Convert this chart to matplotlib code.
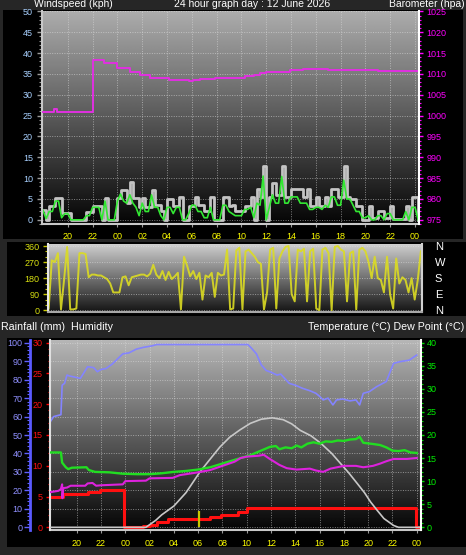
# 24 hour weather graph: wind/barometer, wind direction, temp/humidity/rain

import matplotlib.pyplot as plt
from matplotlib.patches import Rectangle
from matplotlib.ticker import MultipleLocator
import numpy as np

plt.rcParams['font.family'] = ['Liberation Sans', 'DejaVu Sans']

W, H = 466, 555

# time in hours from midnight of 12 June (negative = evening before)
hour_ticks = [-4, -2, 0, 2, 4, 6, 8, 10, 12, 14, 16, 18, 20, 22, 24]
hour_labels = ['20', '22', '00', '02', '04', '06', '08', '10', '12', '14', '16',
               '18', '20', '22', '00']

# wind, sampled every 15 minutes from -6.0 h
wind_t = np.arange(-6.0, 24.26, 0.25)
gust = [2.3, 0, 3.3, 3.3, 5.2, 5.2, 1.7, 1.7,
        1.7, 0, 0, 0, 0, 0, 1.8, 1.8,
        3.3, 3.3, 3.3, 0, 5.2, 0, 0, 0,
        5.2, 7.2, 7.2, 4, 9.0, 5.2, 5.2, 3,
        5.2, 3, 3, 7.2, 3.5, 3.5, 2, 0,
        5, 5, 3.3, 3.3, 5.5, 0, 0, 3.3,
        3.3, 5.5, 3.5, 3.5, 2, 2, 5.5, 0,
        0, 0, 5.5, 5.5, 3.3, 3.5, 2, 2,
        2, 3.3, 3.3, 5.5, 0, 7.5, 5.5, 12.8,
        0, 5.5, 8.8, 6, 6, 12.8, 5.5, 5.5,
        7.5, 7.5, 7.5, 7.5, 5.5, 7.5, 3.3, 3.3,
        5.5, 3.3, 3.3, 5.5, 3.3, 7.5, 7.5, 5.5,
        5.5, 12.8, 5.5, 5, 5, 3.3, 3.3, 0,
        0, 3.3, 0.5, 0.5, 2, 2, 0.5, 0.5,
        3.3, 0.3, 0.3, 0.3, 0.3, 3.3, 0, 5.5,
        5.5, 0]
avg = [2.3, 0.3, 2, 2, 4.5, 4.5, 0.5, 1.5,
       1.5, 0, 0, 0, 0, 0, 1, 1,
       3, 3, 3, 0, 4.5, 0, 0, 0,
       4.5, 6.2, 4.5, 4, 6, 4, 3, 1,
       4, 2, 2, 6, 3, 3, 1, 0,
       3, 3, 1.5, 3, 3, 0, 0, 1.5,
       3.5, 3.5, 2, 2, 0.5, 0.5, 3, 0,
       0, 0, 3.5, 3.5, 2, 1.5, 1, 1,
       1, 2.5, 2.5, 3, 0.5, 4, 3.5, 10.5,
       0, 3, 6, 4, 4, 10.4, 4, 4,
       5.5, 5.5, 5.5, 4, 4, 4, 2.5, 2.5,
       3, 3, 2.5, 3.5, 3, 5.5, 5.5, 3.5,
       3.5, 9.5, 5, 5, 3.5, 2, 2, 0.5,
       0.5, 1, 0, 0, 1, 1, 0, 1.5,
       1.5, 0, 0, 0, 0, 2, 0, 3,
       3, 0]
wind_dir = [10, 280, 270, 320, 5, 170, 355, 5,
            5, 10, 320, 320, 315, 185, 200, 200,
            195, 195, 185, 175, 150, 100, 100, 100,
            185, 190, 140, 185, 190, 195, 200, 200,
            190, 205, 255, 200, 180, 220, 170, 215,
            175, 190, 210, 5, 300, 250, 190, 220,
            175, 210, 60, 195, 185, 210, 75, 210,
            195, 200, 340, 5, 10, 335, 350, 5,
            330, 340, 320, 300, 270, 260, 5, 100,
            340, 350, 10, 290, 330, 355, 360, 90,
            50, 340, 330, 345, 50, 330, 345, 10,
            0, 340, 350, 320, 0, 355, 360, 340,
            330, 50, 320, 330, 5, 340, 350, 330,
            270, 180, 300, 180, 170, 100, 300, 90,
            10, 290, 150, 185, 170, 100, 180, 60,
            170, 330]

baro_t = [-6.1, -5.1, -4.9, -2.0, -1.1, 0.0, 1.0, 1.8, 2.6, 4.2, 5.8, 6.1, 6.7,
          7.9, 10.3, 11.0, 11.5, 12.0, 13.9, 15.0, 17.0, 21.0, 24.4]
baro = [1000.8, 1001.5, 1000.8, 1013.3, 1012.5, 1011.5, 1010.5, 1009.7, 1009.0,
        1008.5, 1008.2, 1008.5, 1008.7, 1008.9, 1009.4, 1009.8, 1010.2, 1010.5,
        1011.0, 1011.2, 1011.0, 1010.8, 1010.8]

temp_t = [-6.2, -5.3, -5.2, -4.9, -4.7, -4.4, -3.2, -3.0, -2.5, -1.3, -0.2, 1.0,
          2.0, 3.0, 4.0, 5.0, 6.0, 7.0, 8.0, 9.0, 9.5, 10.3, 11.0, 11.9, 12.4,
          12.7, 13.2, 13.7, 14.1, 14.5, 15.0, 15.5, 16.0, 16.5, 17.0, 17.5, 18.0,
          18.5, 19.0, 19.3, 19.6, 20.5, 21.0, 21.5, 22.0, 22.5, 23.0, 23.5, 24.0]
temp = [16.2, 16.2, 14.0, 13.0, 12.6, 12.9, 13.0, 12.4, 12.0, 11.9, 11.6, 11.5,
        11.5, 11.7, 12.0, 12.2, 12.5, 13.0, 13.8, 14.6, 15.0, 15.6, 16.4, 17.4,
        17.6, 16.9, 17.3, 17.1, 17.7, 17.3, 18.1, 18.4, 18.1, 18.6, 18.5, 18.8,
        18.7, 19.0, 19.1, 19.6, 18.3, 18.0, 17.8, 17.3, 16.6, 16.5, 16.7, 16.2, 16.1]

dew_t = [-6.2, -5.5, -5.3, -5.2, -5.18, -5.1, -4.8, -4.5, -3.3, -3.1, -2.7, -2.4,
         -2.0, -0.2, 0.0, 1.7, 2.0, 3.9, 4.5, 6.0, 7.0, 8.0, 9.0, 9.5, 10.0, 11.0,
         11.4, 11.9, 12.7, 13.3, 14.1, 15.2, 15.7, 16.3, 16.9, 18.0, 19.0, 19.6,
         20.4, 21.0, 21.5, 22.1, 23.2, 24.0]
dew = [7.6, 7.9, 8.3, 9.3, 6.3, 8.5, 8.6, 9.0, 9.0, 9.5, 9.6, 9.0, 9.1, 9.3, 10.0,
       10.1, 10.6, 10.7, 11.3, 11.9, 12.4, 13.3, 14.2, 15.0, 15.3, 15.5, 15.7,
       14.8, 13.5, 12.8, 12.5, 12.7, 12.3, 12.0, 12.7, 13.3, 13.3, 13.0, 13.3,
       13.8, 14.3, 14.8, 14.8, 15.0]

hum_t = [-6.2, -5.9, -5.3, -5.2, -5.0, -4.8, -4.6, -3.7, -3.1, -2.6, -2.3, -2.0,
         -1.6, -1.1, -0.2, 0.3, 0.9, 1.5, 2.2, 2.6, 10.1, 10.4, 10.8, 11.2, 11.6,
         12.0, 12.5, 12.8, 13.5, 14.0, 14.6, 15.2, 15.7, 16.0, 16.3, 16.7, 17.1,
         17.4, 17.9, 18.5, 19.0, 19.3, 19.6, 20.1, 20.7, 21.5, 21.8, 22.1, 22.6,
         23.4, 23.7, 24.0]
humidity = [57, 60, 61, 77, 78, 82.5, 82, 80.7, 87, 86.5, 84.3, 85.5, 86, 88.3,
            94, 94.5, 96.5, 97.5, 98.3, 99, 99, 97, 94, 88, 85, 84, 82.5, 83, 78,
            77, 75.3, 74, 72.6, 71, 69, 70, 66.3, 69, 69.5, 68.5, 69, 66.3, 72.6,
            73.5, 76.2, 79, 84, 88.8, 89.7, 90.6, 92, 93.3]

rain_t = [-6.2, -5.1, -3.1, -2.1, -0.08, 1.5, 2.0, 2.6, 3.5, 7.0, 7.9, 9.3, 10.0,
          23.92, 24.4]
rain = [4.97, 5.36, 5.8, 6.07, 0, 0.2, 0.4, 0.8, 1.3, 1.63, 2.0, 2.56, 3.19, 0, 0]
rain_rate_t = [6.05]
rain_rate = [2.6]

solar_t = [-6.2, 1.7, 2.5, 3.0, 4.0, 5.0, 6.15, 7.0, 7.8, 8.6, 9.45, 10.3, 11.2,
           12.1, 13.0, 13.7, 14.4, 15.3, 16.1, 17.0, 17.7, 18.4, 19.1, 19.7, 20.2,
           20.8, 21.3, 22.1, 22.5, 24.4]
solar = [0, 0, 1.5, 2.7, 4.6, 7.5, 12.0, 14.8, 17.4, 19.5, 21.1, 22.5, 23.4, 23.7,
         23.3, 22.4, 21.0, 19.8, 18.2, 16.0, 13.9, 11.8, 9.5, 7.5, 5.5, 3.5, 1.9,
         0.4, 0, 0]


def box(x0, y0, x1, y1):
    # pixel box (from top left) -> figure fraction rect
    return [x0 / W, 1 - y1 / H, (x1 - x0) / W, (y1 - y0) / H]


def shade(ax, top, bottom):
    g = np.linspace(bottom, top, 256).reshape(-1, 1)
    ax.imshow(g, extent=[0, 1, 0, 1], transform=ax.transAxes, origin='lower',
              aspect='auto', cmap='gray', vmin=0, vmax=1, zorder=0,
              interpolation='bilinear')


def grid(ax, axis='both'):
    ax.grid(True, axis=axis, color='#e0e0e0', ls=(0, (1, 1.5)), lw=0.7, alpha=0.55)


fig = plt.figure(figsize=(W / 100, H / 100), dpi=100, facecolor='#262626')

# black panels behind each chart
for x0, y0, x1, y1 in [(3, 10, 463, 239), (7, 242, 466, 316), (7, 338, 466, 547)]:
    fig.add_artist(Rectangle((x0 / W, 1 - y1 / H), (x1 - x0) / W, (y1 - y0) / H,
                             transform=fig.transFigure, facecolor='black',
                             edgecolor='none', zorder=-1))

# ---------------- wind speed + barometer ----------------
ax1 = fig.add_axes(box(42, 10.5, 419, 224))
shade(ax1, 0.68, 0.02)
ax1.plot(wind_t, gust, color='#c4c4c4', lw=2.0, drawstyle='steps-post')
ax1.plot(wind_t, avg, color='#33e833', lw=1.2)
ax1.set_xlim(-6.08, 24.32)
ax1.set_ylim(-1, 50.2)
ax1.set_yticks(range(0, 51, 5))
ax1.yaxis.set_minor_locator(MultipleLocator(1))
ax1.set_xticks(hour_ticks)
ax1.set_xticklabels(hour_labels)
ax1.tick_params(axis='y', which='major', length=3.6, width=1, color='#9a9a9a',
                labelcolor='#a8d0ff', labelsize=6.5, pad=3)
ax1.tick_params(axis='y', which='minor', length=2, width=0.8, color='#9a9a9a')
ax1.tick_params(axis='x', length=2, color='#9a9a9a', labelcolor='#ffff00',
                labelsize=6.5, pad=3.5)
grid(ax1)
ax1.spines['top'].set_visible(False)
ax1.spines['right'].set_visible(False)
for s in ['left', 'bottom']:
    ax1.spines[s].set_color('#c8c8c8')
    ax1.spines[s].set_linewidth(1.5)

ax1b = ax1.twinx()
ax1b.plot(baro_t, baro, color='#e030e0', lw=1.4, drawstyle='steps-post')
ax1b.set_ylim(974, 1025.2)
ax1b.set_yticks(range(975, 1026, 5))
ax1b.yaxis.set_minor_locator(MultipleLocator(1))
ax1b.tick_params(axis='y', which='major', length=2.9, width=1, color='#ff00ff',
                 labelcolor='#ff00ff', labelsize=6.5, pad=2.4)
ax1b.tick_params(axis='y', which='minor', length=1.5, width=0.8, color='#ff00ff')
for s in ['top', 'left', 'bottom']:
    ax1b.spines[s].set_visible(False)
ax1b.spines['right'].set_color('white')
ax1b.spines['right'].set_linewidth(1.5)

fig.text(34 / W, 1 - 7 / H, 'Windspeed (kph)', color='white', fontsize=7.5,
         va='baseline', ha='left')
fig.text(252 / W, 1 - 7 / H, '24 hour graph day : 12 June 2026', color='white',
         fontsize=7.5, va='baseline', ha='center')
fig.text(465 / W, 1 - 7 / H, 'Barometer (hpa)', color='white', fontsize=7.5,
         va='baseline', ha='right')

# ---------------- wind direction ----------------
ax2 = fig.add_axes(box(47.7, 244, 421.7, 312.3))
shade(ax2, 0.82, 0.08)
ax2.plot(wind_t, wind_dir, color='#dcdc22', lw=1.4, alpha=0.9)
ax2.set_xlim(-6.08, 24.32)
ax2.set_ylim(-11.2, 371.2)
ax2.set_yticks([0, 90, 180, 270, 360])
ax2.yaxis.set_minor_locator(MultipleLocator(30))
ax2.set_xticks([])
ax2.tick_params(axis='y', which='major', length=3.6, width=1, color='#c8c800',
                labelcolor='#d8e010', labelsize=6.5, pad=2.4)
ax2.tick_params(axis='y', which='minor', length=2, width=0.8, color='#c8c800')
grid(ax2, 'y')
ax2.spines['top'].set_visible(False)
ax2.spines['left'].set_color('#e8e8e8')
ax2.spines['right'].set_color('#d0d0d0')
ax2.spines['bottom'].set_color('#a8a8a8')
for s in ['left', 'right', 'bottom']:
    ax2.spines[s].set_linewidth(1.5)

ax2b = ax2.twinx()
ax2b.set_ylim(-11.2, 371.2)
ax2b.set_yticks([0, 90, 180, 270, 360])
ax2b.set_yticklabels(['N', 'E', 'S', 'W', 'N'])
ax2b.tick_params(axis='y', length=0, labelcolor='white', labelsize=8, pad=9.5)
for s in ax2b.spines.values():
    s.set_visible(False)

# ---------------- temperature / humidity / rain ----------------
fig.text(1 / W, 1 - 330 / H, 'Rainfall (mm)  Humidity', color='white',
         fontsize=7.7, va='baseline', ha='left')
fig.text(464 / W, 1 - 330 / H, 'Temperature (\u00b0C) Dew Point (\u00b0C)',
         color='white', fontsize=7.7, va='baseline', ha='right')

ax3 = fig.add_axes(box(50, 339.5, 420.7, 530))
shade(ax3, 0.72, 0.02)
ax3.plot(hum_t, humidity, color='#8484ff', lw=1.2)
ax3.set_xlim(-6.2, 24.33)
ax3.set_ylim(-1.46, 101.75)
ax3.set_yticks(range(0, 101, 10))
ax3.yaxis.set_minor_locator(MultipleLocator(2))
ax3.set_xticks(hour_ticks)
ax3.set_xticklabels(hour_labels)
ax3.tick_params(axis='y', which='major', length=4.3, width=1, color='#6060ff',
                labelcolor='#9090ff', labelsize=6.5, pad=1.2)
ax3.tick_params(axis='y', which='minor', length=2, width=0.8, color='#6060ff')
ax3.tick_params(axis='x', length=2, color='#9a9a9a', labelcolor='#ffff00',
                labelsize=6.5, pad=4.5)
grid(ax3)
ax3.spines['top'].set_visible(False)
ax3.spines['right'].set_visible(False)
ax3.spines['left'].set_position(('outward', 14.4))
ax3.spines['left'].set_color('#5a5aff')
ax3.spines['left'].set_linewidth(2)
ax3.spines['bottom'].set_color('#c8c8c8')
ax3.spines['bottom'].set_linewidth(1.5)

ax3r = ax3.twinx()
ax3r.plot(rain_t, rain, color='#ff1010', lw=2.2, drawstyle='steps-post')
ax3r.vlines(rain_rate_t, 0, rain_rate, color='#c8c800', lw=1.6)
ax3r.set_ylim(-0.44, 30.52)
ax3r.yaxis.set_ticks_position('left')
ax3r.set_yticks(range(0, 31, 5))
ax3r.yaxis.set_minor_locator(MultipleLocator(1))
ax3r.tick_params(axis='y', which='major', length=3.2, width=1, color='#ff0000',
                 labelcolor='#ff1010', labelsize=6.5, pad=2.4)
ax3r.tick_params(axis='y', which='minor', length=1.6, width=0.8, color='#ff0000')
for s in ['top', 'right', 'bottom']:
    ax3r.spines[s].set_visible(False)
ax3r.spines['left'].set_color('#e0e0e0')
ax3r.spines['left'].set_linewidth(1.5)

ax3t = ax3.twinx()
ax3t.plot(solar_t, solar, color='#c8c8c8', lw=1.2)
ax3t.plot(temp_t, temp, color='#22dd22', lw=1.7)
ax3t.plot(dew_t, dew, color='#dd22dd', lw=1.5)
ax3t.set_ylim(-0.58, 40.65)
ax3t.set_yticks(range(0, 41, 5))
ax3t.yaxis.set_minor_locator(MultipleLocator(1))
ax3t.tick_params(axis='y', which='major', length=2.5, width=1, color='#00dd00',
                 labelcolor='#00ee00', labelsize=6.5, pad=1.9)
ax3t.tick_params(axis='y', which='minor', length=1.5, width=0.8, color='#00dd00')
for s in ['top', 'left', 'bottom']:
    ax3t.spines[s].set_visible(False)
ax3t.spines['right'].set_color('white')
ax3t.spines['right'].set_linewidth(1.5)

fig.savefig('out.png', dpi=100, facecolor=fig.get_facecolor())
